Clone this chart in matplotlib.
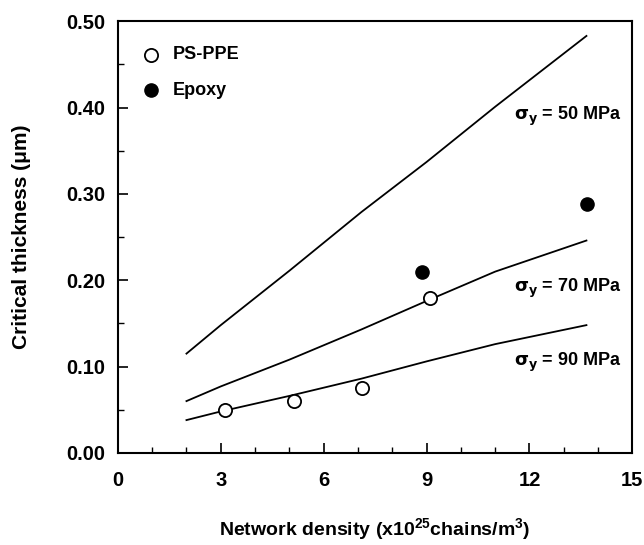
import matplotlib
matplotlib.use("Agg")
import matplotlib.pyplot as plt
from matplotlib.ticker import MultipleLocator, FormatStrFormatter

plt.rcParams['font.family'] = ['Liberation Sans', 'DejaVu Sans']
plt.rcParams['font.weight'] = 'bold'
plt.rcParams['mathtext.fontset'] = 'custom'
plt.rcParams['mathtext.rm'] = 'Liberation Sans:bold'
plt.rcParams['mathtext.it'] = 'DejaVu Sans'
plt.rcParams['mathtext.bf'] = 'Liberation Sans:bold'

# Model curves
line_x = [2.0, 3.0, 5.0, 7.1, 9.0, 11.0, 13.66]
line50 = [0.115, 0.148, 0.211, 0.279, 0.337, 0.401, 0.483]
line70 = [0.060, 0.077, 0.108, 0.143, 0.176, 0.210, 0.246]
line90 = [0.038, 0.048, 0.066, 0.086, 0.106, 0.126, 0.148]
line_labels = [r"$\sigma_y$ = 50 MPa", r"$\sigma_y$ = 70 MPa", r"$\sigma_y$ = 90 MPa"]
label_y = [0.39, 0.191, 0.105]

# Data
ps_x = [3.13, 5.14, 7.13, 9.10]
ps_y = [0.050, 0.060, 0.075, 0.180]
ep_x = [8.87, 13.69]
ep_y = [0.210, 0.288]

fig = plt.figure(figsize=(6.44, 5.45), dpi=100)
ax = fig.add_axes([0.183, 0.169, 0.799, 0.792])

for yv in (line50, line70, line90):
    ax.plot(line_x, yv, color='black', lw=1.3)

ax.plot(ps_x, ps_y, 'o', mfc='white', mec='black', mew=1.3, ms=9.5, ls='none')
ax.plot(ep_x, ep_y, 'o', mfc='black', mec='black', ms=9.5, ls='none')

for lab, yy in zip(line_labels, label_y):
    ax.text(11.55, yy, lab, fontsize=13, fontweight='bold', va='center', ha='left')

# legend drawn manually
ax.plot([0.98], [0.461], 'o', mfc='white', mec='black', mew=1.3, ms=9.5, ls='none')
ax.plot([0.98], [0.420], 'o', mfc='black', mec='black', ms=9.5, ls='none')
ax.text(1.6, 0.461, "PS-PPE", fontsize=13, fontweight='bold', va='center')
ax.text(1.6, 0.420, "Epoxy", fontsize=13, fontweight='bold', va='center')

ax.set_xlim(0, 15)
ax.set_ylim(0, 0.5)
ax.xaxis.set_major_locator(MultipleLocator(3))
ax.xaxis.set_minor_locator(MultipleLocator(1))
ax.yaxis.set_major_locator(MultipleLocator(0.1))
ax.yaxis.set_minor_locator(MultipleLocator(0.05))
ax.yaxis.set_major_formatter(FormatStrFormatter('%.2f'))
ax.tick_params(which='both', direction='in', top=False, right=False)
ax.tick_params(which='major', length=7, width=1.2, labelsize=14.5)
ax.tick_params(which='minor', length=4, width=1.0)
ax.tick_params(axis='x', which='major', pad=13)
ax.tick_params(axis='y', which='major', pad=9)
for t in ax.get_xticklabels() + ax.get_yticklabels():
    t.set_fontweight('bold')
for s in ax.spines.values():
    s.set_linewidth(1.5)

ax.set_ylabel("Critical thickness (μm)", fontsize=15, fontweight='bold')
ax.yaxis.set_label_coords(-0.168, 0.5)
ax.set_xlabel("Network density (x10$^{25}$chains/m$^{3}$)", fontsize=14, fontweight='bold')
ax.xaxis.set_label_coords(0.5, -0.148)

fig.savefig("out.png", dpi=100)
